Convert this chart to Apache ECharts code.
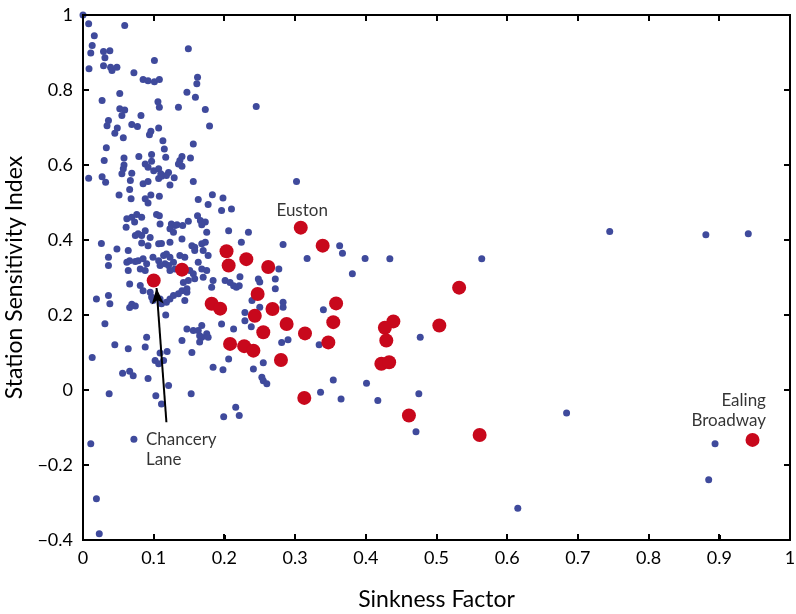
<!DOCTYPE html>
<html>
<head>
<meta charset="utf-8">
<script src="https://cdn.jsdelivr.net/npm/echarts@6/dist/echarts.min.js"></script>
<style>
html,body{margin:0;padding:0;background:#fff;}
#wrap{position:relative;width:796px;height:614px;}
#chart{width:796px;height:614px;}
#overlay{position:absolute;left:0;top:0;width:796px;height:614px;pointer-events:none;}
#overlay div{position:absolute;background:#000;}
#overlay div.box{background:transparent;border:2px solid #000;box-sizing:border-box;}
#err{position:absolute;left:300px;top:60px;font:14px sans-serif;color:#a00;width:480px;}
</style>
</head>
<body>
<div id="wrap"><div id="chart"></div><div id="overlay"></div></div>
<div id="err"></div>
<script>
window.onerror = function (m) { document.getElementById('err').textContent += ' ERR:' + m; };
const logErr = s => { document.getElementById('err').textContent += ' | ' + s; };

// Tick values
const xTicks = [0, 0.1, 0.2, 0.3, 0.4, 0.5, 0.6, 0.7, 0.8, 0.9, 1];
const yTicks = [-0.4, -0.2, 0, 0.2, 0.4, 0.6, 0.8, 1];

// Other stations (blue): [sinkness factor, station sensitivity index]
const otherStations = [
[0.0,1.0],[0.008,0.977],[0.059,0.972],[0.016,0.945],[0.013,0.919],[0.011,0.899],[0.0085,0.857],
[0.029,0.903],[0.038,0.905],[0.031,0.886],[0.029,0.865],[0.039,0.861],[0.041,0.852],[0.048,0.861],
[0.072,0.846],[0.101,0.879],[0.149,0.91],
[0.085,0.828],[0.092,0.825],[0.101,0.822],[0.108,0.828],
[0.162,0.834],[0.161,0.817],[0.147,0.794],[0.159,0.781],[0.052,0.791],[0.027,0.772],[0.106,0.769],[0.108,0.754],[0.135,0.754],[0.173,0.748],[0.245,0.756],
[0.052,0.75],[0.059,0.747],[0.055,0.732],[0.082,0.732],[0.036,0.719],[0.034,0.705],[0.0485,0.699],[0.045,0.685],[0.069,0.708],[0.077,0.703],[0.057,0.673],[0.096,0.69],[0.094,0.681],[0.107,0.699],[0.179,0.704],
[0.113,0.665],[0.115,0.643],[0.156,0.656],[0.033,0.646],[0.03,0.612],[0.079,0.623],[0.097,0.628],[0.097,0.61],[0.117,0.621],[0.14,0.623],[0.137,0.612],[0.135,0.603],[0.152,0.619],[0.14,0.597],
[0.058,0.619],[0.058,0.6],[0.057,0.59],[0.055,0.577],
[0.088,0.603],[0.092,0.594],[0.1,0.585],
[0.107,0.59],[0.11,0.577],[0.107,0.564],[0.111,0.57],
[0.121,0.58],[0.118,0.572],[0.129,0.566],[0.123,0.547],
[0.008,0.565],[0.027,0.569],[0.032,0.554],[0.069,0.578],[0.067,0.559],[0.066,0.535],[0.085,0.55],[0.092,0.556],[0.156,0.556],
[0.051,0.52],[0.068,0.51],[0.088,0.51],[0.096,0.52],[0.108,0.517],[0.183,0.521],[0.198,0.512],[0.163,0.508],
[0.092,0.499],[0.177,0.495],[0.196,0.479],[0.21,0.483],
[0.062,0.457],[0.069,0.461],[0.076,0.468],[0.083,0.461],[0.073,0.448],[0.104,0.468],[0.109,0.443],[0.108,0.465],
[0.125,0.443],[0.13,0.439],[0.123,0.43],[0.128,0.421],[0.133,0.441],
[0.149,0.45],[0.162,0.465],[0.166,0.452],[0.173,0.448],[0.168,0.441],[0.175,0.421],
[0.206,0.425],[0.234,0.421],[0.224,0.394],
[0.061,0.434],[0.074,0.412],[0.083,0.412],[0.088,0.425],[0.078,0.417],
[0.026,0.391],[0.048,0.376],[0.036,0.354],[0.036,0.332],
[0.095,0.407],[0.083,0.392],[0.092,0.385],[0.107,0.39],[0.111,0.391],[0.123,0.394],
[0.064,0.372],[0.066,0.345],[0.064,0.319],[0.062,0.341],[0.074,0.343],[0.078,0.345],[0.085,0.35],[0.09,0.337],[0.081,0.323],[0.088,0.319],
[0.099,0.354],[0.107,0.345],[0.114,0.359],[0.118,0.363],[0.123,0.354],[0.116,0.337],[0.109,0.332],[0.121,0.332],[0.128,0.341],[0.13,0.323],[0.123,0.319],
[0.137,0.359],[0.144,0.354],[0.151,0.319],[0.156,0.31],[0.158,0.297],[0.149,0.292],[0.142,0.287],
[0.154,0.385],[0.158,0.381],[0.168,0.39],[0.173,0.394],[0.17,0.372],[0.177,0.359],[0.141,0.439],[0.14,0.403],[0.158,0.372],
[0.163,0.341],[0.168,0.323],[0.17,0.301],[0.175,0.319],[0.182,0.274],[0.184,0.292],
[0.201,0.292],[0.208,0.287],[0.217,0.274],[0.221,0.278],
[0.019,0.243],[0.036,0.252],[0.038,0.23],[0.031,0.177],
[0.066,0.283],[0.081,0.279],[0.085,0.265],[0.095,0.261],[0.097,0.248],[0.099,0.239],[0.109,0.243],[0.111,0.23],[0.118,0.234],[0.123,0.243],[0.128,0.252],[0.135,0.257],[0.14,0.265],[0.147,0.261],[0.144,0.239],[0.147,0.27],
[0.069,0.229],[0.074,0.224],[0.066,0.22],[0.117,0.2],
[0.147,0.163],[0.156,0.159],[0.163,0.159],[0.168,0.172],[0.175,0.15],[0.168,0.141],[0.177,0.141],[0.196,0.176],[0.213,0.163],
[0.14,0.132],[0.154,0.1],[0.09,0.141],[0.088,0.115],[0.064,0.11],[0.045,0.121],[0.013,0.087],
[0.109,0.099],[0.119,0.103],[0.114,0.079],[0.102,0.079],[0.107,0.07],
[0.184,0.061],[0.198,0.054],[0.241,0.056],
[0.056,0.045],[0.066,0.05],[0.071,0.038],[0.092,0.031],[0.121,0.012],
[0.037,-0.01],[0.103,-0.015],[0.111,-0.037],[0.153,-0.01],[0.199,-0.071],[0.216,-0.046],[0.221,-0.068],
[0.011,-0.143],[0.072,-0.131],[0.019,-0.29],[0.023,-0.383],
[0.302,0.556],
[0.283,0.388],[0.363,0.385],[0.367,0.365],[0.317,0.351],[0.399,0.351],[0.434,0.35],[0.381,0.31],
[0.222,0.302],[0.248,0.296],[0.25,0.288],[0.272,0.296],[0.277,0.323],[0.272,0.27],[0.213,0.278],
[0.239,0.239],[0.25,0.221],[0.283,0.234],[0.283,0.221],
[0.229,0.207],[0.229,0.185],[0.165,0.145],[0.165,0.128],[0.238,0.169],
[0.281,0.127],[0.29,0.134],[0.334,0.121],[0.34,0.214],
[0.206,0.083],[0.255,0.073],[0.253,0.034],[0.255,0.025],[0.26,0.017],
[0.354,0.027],[0.401,0.018],[0.336,-0.006],[0.365,-0.024],[0.417,-0.028],
[0.564,0.35],[0.477,0.141],[0.475,-0.01],[0.471,-0.111],[0.684,-0.061],
[0.745,0.423],[0.881,0.414],[0.941,0.417],[0.894,-0.143],[0.885,-0.239],[0.615,-0.315]
];

// Highlighted stations (red)
const keyStations = [
[0.100,0.292],[0.140,0.321],[0.203,0.370],[0.206,0.332],[0.231,0.349],[0.262,0.328],
[0.308,0.433],[0.339,0.385],[0.182,0.230],[0.194,0.217],[0.247,0.256],[0.243,0.198],
[0.268,0.216],[0.255,0.154],[0.288,0.176],[0.314,0.151],[0.208,0.123],[0.228,0.117],
[0.241,0.105],[0.280,0.080],[0.313,-0.021],[0.358,0.231],[0.354,0.181],[0.347,0.127],
[0.439,0.183],[0.427,0.166],[0.429,0.132],[0.422,0.070],[0.433,0.074],[0.504,0.172],
[0.532,0.273],[0.461,-0.068],[0.561,-0.120],[0.947,-0.133]
];

// Annotation texts, anchored in data space
const annotationTexts = ['Euston', 'Chancery\nLane', 'Ealing\nBroadway'];
const annotationAnchors = [[0.31, 0.478], [0.089, -0.158], [0.966, -0.054]];
const arrowFrom = [0.118, -0.086];
const arrowTo = [0.104, 0.272];

const FONT = 'Lato';
const X_MIN = 0, X_MAX = 1, Y_MIN = -0.4, Y_MAX = 1;
const chart = echarts.init(document.getElementById('chart'), null, {renderer: 'canvas'});
const fmtY = v => (v < 0 ? '\u2212' + Math.abs(v) : String(v));

// 1) axes and data
try {
chart.setOption({
  animation: false,
  backgroundColor: '#fff',
  grid: {left: 83, right: 6, top: 15, bottom: 74, outerBoundsMode: 'none'},
  xAxis: {type: 'value', min: X_MIN, max: X_MAX, interval: 0.1,
     axisLine: {show: true, onZero: false, lineStyle: {color: '#000', width: 2}},
     axisTick: {show: true, inside: true, length: 5, lineStyle: {color: '#000', width: 2}},
     splitLine: {show: false},
     axisLabel: {color: '#000', fontFamily: FONT, fontSize: 18, margin: 9},
     name: 'Sinkness Factor', nameLocation: 'middle', nameGap: 48,
     nameTextStyle: {color: '#000', fontFamily: FONT, fontSize: 23}},
  yAxis: {type: 'value', min: Y_MIN, max: Y_MAX, interval: 0.2,
     axisLine: {show: true, onZero: false, lineStyle: {color: '#000', width: 2}},
     axisTick: {show: true, inside: true, length: 5, lineStyle: {color: '#000', width: 2}},
     splitLine: {show: false},
     axisLabel: {color: '#000', fontFamily: FONT, fontSize: 18, margin: 10, formatter: fmtY},
     name: 'Station Sensitivity Index', nameLocation: 'middle', nameGap: 52,
     nameTextStyle: {color: '#000', fontFamily: FONT, fontSize: 23}},
  series: [
    {name: 'Other stations', type: 'scatter', data: otherStations, symbolSize: 7,
     itemStyle: {color: '#3f4a9c', opacity: 1}, z: 2},
    {name: 'Key stations', type: 'scatter', data: keyStations, symbolSize: 14,
     itemStyle: {color: '#c8081c', opacity: 1}, z: 3}
  ]
});
} catch (e) { logErr('E1:' + e.message); }

// 2) annotations
try {
chart.setOption({series: [{}, {}, {name: 'Annotations', type: 'scatter', symbolSize: 0, silent: true, z: 5,
     data: annotationAnchors.map((p, i) => ({value: p,
       label: {show: true, formatter: annotationTexts[i], fontFamily: FONT, fontSize: 17,
         color: '#000', lineHeight: 20,
         position: i === 0 ? 'inside' : (i === 1 ? 'right' : 'left'),
         align: i === 0 ? 'center' : (i === 1 ? 'left' : 'right'), distance: 0}})),
     markLine: {silent: true, symbol: ['none', 'arrow'], symbolSize: [9, 16],
       lineStyle: {color: '#000', width: 2, type: 'solid'}, label: {show: false},
       data: [[{coord: arrowFrom}, {coord: arrowTo}]]}}]});
} catch (e) { logErr('E2:' + e.message); }

// 3) axes box with inward ticks on all four sides, positioned through the chart's own scales
try {
  const px = (x, y) => chart.convertToPixel({xAxisIndex: 0, yAxisIndex: 0}, [x, y]);
  const a = px(X_MIN, Y_MIN), b = px(X_MAX, Y_MAX);
  const l = a[0], bot = a[1], r = b[0], t = b[1];
  const TL = 6;
  const ov = document.getElementById('overlay');
  const add = (cls, x, y, w, h) => {
    const d = document.createElement('div');
    if (cls) d.className = cls;
    d.style.left = x + 'px'; d.style.top = y + 'px';
    d.style.width = w + 'px'; d.style.height = h + 'px';
    ov.appendChild(d);
  };
  add('box', l - 1, t - 1, r - l + 2, bot - t + 2);
  xTicks.forEach(v => {
    const x = px(v, Y_MIN)[0];
    add('', x - 1, bot - TL, 2, TL);
    add('', x - 1, t, 2, TL);
  });
  yTicks.forEach(v => {
    const y = px(X_MIN, v)[1];
    add('', l, y - 1, TL, 2);
    add('', r - TL, y - 1, TL, 2);
  });
} catch (e) { logErr('E3:' + e.message); }
</script>
</body>
</html>
